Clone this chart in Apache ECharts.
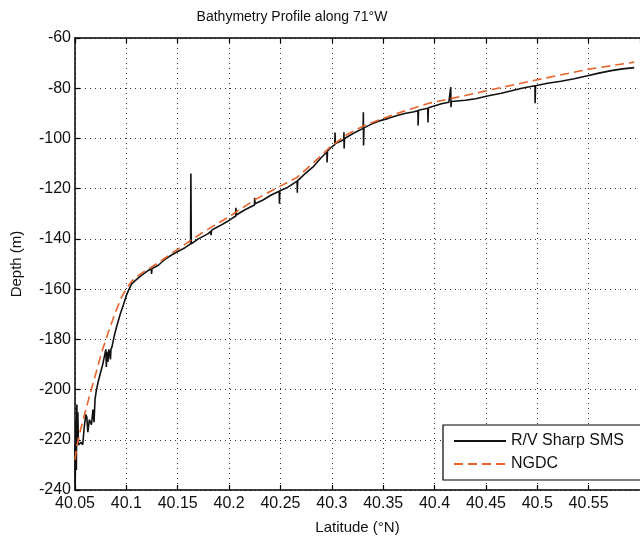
<!DOCTYPE html>
<html>
<head>
<meta charset="utf-8">
<script src="https://cdn.jsdelivr.net/npm/echarts@6/dist/echarts.min.js"></script>
<style>
html,body{margin:0;padding:0;background:#fff;}
#chart{width:640px;height:540px;}
</style>
</head>
<body>
<div id="chart"></div>
<script>
// R/V Sharp SMS bathymetry (latitude °N, depth m)
var smsLat = [40.0500,40.0502,40.0505,40.0509,40.0513,40.0518,40.0523,40.0528,40.0533,40.0545,40.0560,40.0575,40.0590,40.0605,40.0615,40.0625,40.0640,40.0660,40.0675,40.0685,40.0695,40.0705,40.0725,40.0750,40.0770,40.0790,40.0800,40.0805,40.0810,40.0820,40.0830,40.0845,40.0850,40.0860,40.0880,40.0905,40.0940,40.0973,40.1000,40.1021,40.1050,40.1089,40.1147,40.1214,40.1243,40.1245,40.1250,40.1311,40.1380,40.1436,40.1500,40.1571,40.1625,40.1628,40.1632,40.1700,40.1793,40.1822,40.1824,40.1830,40.1900,40.1986,40.2040,40.2064,40.2066,40.2070,40.2083,40.2150,40.2247,40.2249,40.2253,40.2330,40.2410,40.2488,40.2490,40.2494,40.2569,40.2662,40.2664,40.2668,40.2740,40.2826,40.2900,40.2952,40.2954,40.2958,40.2981,40.3029,40.3031,40.3035,40.3090,40.3116,40.3118,40.3120,40.3124,40.3145,40.3230,40.3305,40.3307,40.3309,40.3313,40.3400,40.3464,40.3550,40.3628,40.3720,40.3790,40.3838,40.3840,40.3844,40.3934,40.3936,40.3940,40.4068,40.4139,40.4156,40.4158,40.4160,40.4164,40.4300,40.4400,40.4525,40.4650,40.4750,40.4850,40.4977,40.4979,40.4983,40.5100,40.5230,40.5360,40.5490,40.5600,40.5720,40.5830,40.5944];
var smsDepth = [-222,-238,-226,-212,-232,-206,-219,-209,-222,-222.5,-221,-222,-215,-210,-211,-217,-212,-214,-208,-213,-204,-201,-197,-193,-190,-186,-184,-191,-185,-189,-184,-188,-184,-183,-179,-175,-170,-166,-162.5,-160.5,-158,-156.5,-154.5,-152.5,-152,-154,-151.8,-150.5,-148,-146.5,-145,-143.5,-142,-114,-142,-140,-138,-137,-138.5,-136.5,-135,-133,-131.5,-131,-127.6,-130.5,-130,-128.5,-126.5,-123.6,-126,-124.5,-122.5,-121,-126,-120.8,-119.5,-117,-121.6,-116.8,-114,-111,-107.5,-105.5,-109.6,-105,-104,-102.5,-97.6,-102,-101,-100.5,-97.5,-104,-100,-99.5,-97.5,-96,-89.6,-102.8,-95.8,-94,-93,-92,-91,-90,-89.5,-89,-94.8,-88.8,-88,-93.6,-87.8,-86.2,-85.6,-85.5,-79.6,-87.6,-85.3,-84.8,-84.2,-83,-82,-81,-80,-79,-86,-79,-78,-77.2,-76.2,-75,-74,-73,-72.3,-71.8];

// NGDC bathymetry
var ngdcLat = [40.0500,40.0520,40.0560,40.0635,40.0700,40.0761,40.0830,40.0896,40.0950,40.1002,40.1060,40.1118,40.1214,40.1311,40.1450,40.1629,40.1800,40.1986,40.2247,40.2450,40.2662,40.2826,40.2981,40.3145,40.3309,40.3500,40.3724,40.3946,40.4139,40.4400,40.4525,40.4979,40.5490,40.5944];
var ngdcDepth = [-228,-222,-215,-203.5,-194,-185,-176.5,-169,-163.5,-159.6,-156.5,-154.5,-152,-149.5,-145.5,-140.5,-136,-131.5,-124.5,-120,-115.5,-109.5,-103.5,-98.5,-95,-92,-88.8,-86,-84.3,-82,-80.8,-76.8,-72.5,-69.6];

var seriesNames = ['R/V Sharp SMS', 'NGDC'];
var titleText = 'Bathymetry Profile along 71°W';
var xName = 'Latitude (°N)';
var yName = 'Depth (m)';

function zip(a, b) { return a.map(function (v, i) { return [v, b[i]]; }); }

var FONT = '"Liberation Sans", Arial, sans-serif';
var chart = echarts.init(document.getElementById('chart'), null, {renderer: 'canvas'});
var axisCommon = {
  axisLine: {show: true, onZero: false, lineStyle: {color: '#000', width: 1.5}},
  axisTick: {show: true, inside: true, length: 5, lineStyle: {color: '#000', width: 1.2}}
};
chart.setOption({
  backgroundColor: '#fff',
  animation: false,
  title: {
    text: titleText, left: 292, top: 10, textAlign: 'center', padding: 0,
    textStyle: {fontFamily: FONT, fontSize: 14, fontWeight: 'normal', color: '#111'}
  },
  grid: {left: 75, right: -7, top: 38, bottom: 50, containLabel: false},
  legend: {
    orient: 'vertical', left: 443, top: 425,
    padding: [8, 24, 8, 10], itemGap: 7, itemWidth: 52, itemHeight: 16,
    backgroundColor: '#fff', borderColor: '#000', borderWidth: 1.2, borderRadius: 0,
    itemStyle: {opacity: 0},
    textStyle: {fontFamily: FONT, fontSize: 16, color: '#111'},
    data: seriesNames
  },
  xAxis: [
    Object.assign({
      type: 'value', min: 40.05, max: 40.6, interval: 0.05, position: 'bottom',
      name: xName, nameLocation: 'middle', nameGap: 30,
      nameTextStyle: {fontFamily: FONT, fontSize: 15, color: '#111'},
      axisLabel: {fontFamily: FONT, fontSize: 16, color: '#111', margin: 6, showMaxLabel: false,
        formatter: function (v) { return String(parseFloat(v.toFixed(2))); }},
      splitLine: {show: true, lineStyle: {color: '#333', type: [1, 4], width: 1}}
    }, axisCommon),
    Object.assign({
      type: 'value', min: 40.05, max: 40.6, interval: 0.05, position: 'top',
      axisLabel: {show: false}, splitLine: {show: false}
    }, axisCommon)
  ],
  yAxis: Object.assign({
    type: 'value', min: -240, max: -60, interval: 20,
    name: yName, nameLocation: 'middle', nameGap: 51,
    nameTextStyle: {fontFamily: FONT, fontSize: 15, color: '#111'},
    axisLabel: {fontFamily: FONT, fontSize: 16, color: '#111', margin: 4},
    splitLine: {show: true, lineStyle: {color: '#333', type: [1, 4], width: 1}}
  }, axisCommon),
  series: [
    {
      name: seriesNames[0], type: 'line', symbol: 'none', xAxisIndex: 0,
      data: zip(smsLat, smsDepth),
      lineStyle: {color: '#111', width: 1.6}, itemStyle: {color: '#111'}, z: 3
    },
    {
      name: seriesNames[1], type: 'line', symbol: 'none', xAxisIndex: 0,
      data: zip(ngdcLat, ngdcDepth),
      lineStyle: {color: '#e8642a', width: 1.6, type: [9, 5]}, itemStyle: {color: '#e8642a'}, z: 4
    }
  ]
});
</script>
</body>
</html>
